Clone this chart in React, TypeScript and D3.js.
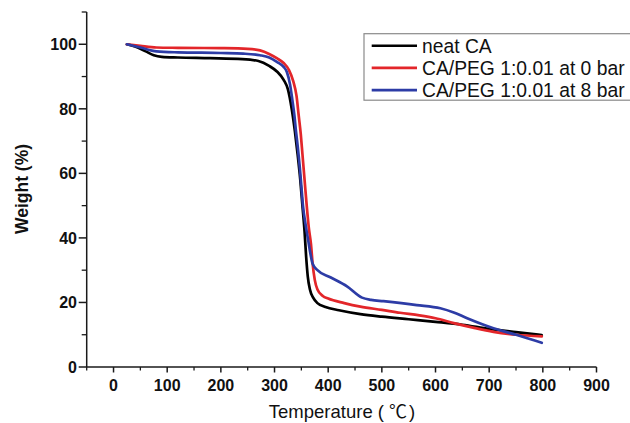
import React from "react";
import * as d3 from "d3";

const neatCA: [number, number][] = [
  [25, 100], [40, 99.3], [60, 97.8], [75, 96.6], [90, 96.1], [120, 95.9], [180, 95.7], [240, 95.4],
  [270, 94.8], [290, 93.3], [305, 91.5], [317, 89], [325, 86], [332, 80], [338, 73], [343, 66],
  [348, 58], [352, 50], [356, 42], [359, 34], [362, 28], [366, 24], [372, 21.5], [380, 19.8],
  [395, 18.6], [420, 17.6], [460, 16.4], [500, 15.6], [550, 14.8], [600, 14.0], [650, 13.1],
  [700, 11.8], [750, 10.8], [798, 9.9],
];
const peg0bar: [number, number][] = [
  [25, 100], [50, 99.5], [80, 99.0], [120, 98.9], [200, 98.8], [250, 98.6], [273, 98.1], [290, 97],
  [305, 95.6], [317, 94.2], [327, 92], [335, 88.5], [341, 84], [345, 78], [349, 72], [352, 66],
  [356, 58], [360, 50], [364, 43], [368, 38], [371, 32], [375, 27], [380, 24], [390, 22], [400, 21.2],
  [430, 19.8], [460, 18.7], [500, 17.7], [534, 16.8], [570, 16], [600, 15.1], [634, 13.6],
  [670, 12.2], [708, 10.9], [750, 10], [798, 9.5],
];
const peg8bar: [number, number][] = [
  [25, 100], [50, 99], [80, 97.8], [120, 97.5], [200, 97.3], [242, 97.1], [273, 96.6], [290, 95.9],
  [305, 94.5], [317, 93], [323, 91.4], [329, 87.5], [333, 83], [337, 78], [340, 73], [343, 68.7],
  [347, 62], [350, 56], [353, 50], [358, 44], [363, 39], [367, 35], [371, 32], [380, 30], [404, 27.8],
  [435, 25], [463, 21.5], [480, 20.8], [503, 20.4], [565, 19.2], [609, 18.2], [634, 16.9],
  [659, 15.1], [708, 12], [752, 9.9], [798, 7.5],
];

const seriesNames = ["neat CA", "CA/PEG 1:0.01 at 0 bar", "CA/PEG 1:0.01 at 8 bar"];
const seriesColors = ["#000000", "#e3262a", "#2d3ca6"];
const seriesData = [neatCA, peg0bar, peg8bar];

const xMajorTicks = [0, 100, 200, 300, 400, 500, 600, 700, 800, 900];
const xMinorTicks = [-50, 50, 150, 250, 350, 450, 550, 650, 750, 850];
const yMajorTicks = [0, 20, 40, 60, 80, 100];
const yMinorTicks = [10, 30, 50, 70, 90, 110];

const xTitleMain = "Temperature (";
const xTitleUnit = "\u2103";
const xTitleEnd = ")";
const yTitle = "Weight (%)";

export default function App() {
  const W = 630, H = 423;
  const x = d3.scaleLinear().domain([-50, 900]).range([86.7, 596.5]);
  const y = d3.scaleLinear().domain([0, 110]).range([367, 12]);
  const line = d3
    .line<[number, number]>()
    .x((d) => x(d[0]))
    .y((d) => y(d[1]))
    .curve(d3.curveMonotoneX);
  const axisColor = "#1a1a1a";
  const font = "Arial, 'Liberation Sans', sans-serif";

  return (
    <svg width={W} height={H} style={{ position: "absolute", left: 0, top: 0, background: "#fff" }}>
      <rect x={0} y={0} width={W} height={H} fill="#fff" />
      {seriesData.map((s, i) => (
        <path key={i} d={line(s) || ""} fill="none" stroke={seriesColors[i]} strokeWidth={2.7} strokeLinejoin="round" strokeLinecap="round" />
      ))}
      <line x1={x(-50)} x2={x(-50)} y1={y(110)} y2={y(0)} stroke={axisColor} strokeWidth={1.5} />
      {yMajorTicks.map((t) => (
        <g key={"ym" + t}>
          <line x1={x(-50) - 8} x2={x(-50)} y1={y(t)} y2={y(t)} stroke={axisColor} strokeWidth={1.5} />
          <text x={77} y={y(t)} dy="0.36em" textAnchor="end" fontFamily={font} fontWeight="bold" fontSize={16} fill="#111">
            {t}
          </text>
        </g>
      ))}
      {yMinorTicks.map((t) => (
        <line key={"yn" + t} x1={x(-50) - 5} x2={x(-50)} y1={y(t)} y2={y(t)} stroke={axisColor} strokeWidth={1.3} />
      ))}
      <line x1={x(-50)} x2={x(900)} y1={y(0)} y2={y(0)} stroke={axisColor} strokeWidth={1.5} />
      {xMajorTicks.map((t) => (
        <g key={"xm" + t}>
          <line x1={x(t)} x2={x(t)} y1={y(0)} y2={y(0) + 5.5} stroke={axisColor} strokeWidth={1.5} />
          <text x={x(t)} y={390.5} textAnchor="middle" fontFamily={font} fontWeight="bold" fontSize={16} fill="#111">
            {t}
          </text>
        </g>
      ))}
      {xMinorTicks.map((t) => (
        <line key={"xn" + t} x1={x(t)} x2={x(t)} y1={y(0)} y2={y(0) + 3.5} stroke={axisColor} strokeWidth={1.3} />
      ))}
      <text x={342} y={418} textAnchor="middle" fontFamily={font} fontSize={18.5} fill="#111">
        {xTitleMain}
        <tspan dx={5} fontFamily="'Noto Sans CJK SC', sans-serif" fontSize={18}>{xTitleUnit}</tspan>
        <tspan dx={2}>{xTitleEnd}</tspan>
      </text>
      <text transform="translate(28,189) rotate(-90)" textAnchor="middle" fontFamily={font} fontWeight="bold" fontSize={17.5} fill="#111">
        {yTitle}
      </text>
      <rect x={364} y={33.7} width={280} height={66.5} fill="#fff" stroke="#8a8a8a" strokeWidth={1.2} />
      {seriesNames.map((n, i) => {
        const cy = 45.7 + i * 22.2;
        return (
          <g key={"lg" + i}>
            <line x1={371.7} x2={417} y1={cy} y2={cy} stroke={seriesColors[i]} strokeWidth={2.6} />
            <text x={422} y={cy} dy="0.36em" fontFamily={font} fontSize={19.3} fill="#111">
              {n}
            </text>
          </g>
        );
      })}
    </svg>
  );
}
